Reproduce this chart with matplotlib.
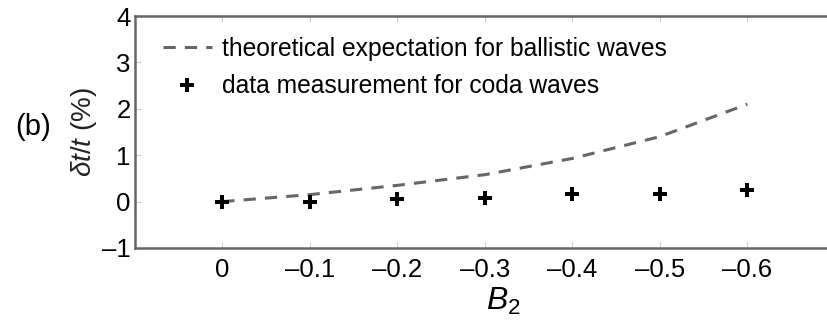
import matplotlib
matplotlib.use("Agg")
import matplotlib.pyplot as plt

plt.rcParams['font.family'] = ['Liberation Sans', 'DejaVu Sans']
plt.rcParams['mathtext.fontset'] = 'custom'
plt.rcParams['mathtext.rm'] = 'Liberation Sans'
plt.rcParams['mathtext.it'] = 'Liberation Sans:italic'
plt.rcParams['mathtext.sf'] = 'Liberation Sans'
plt.rcParams['axes.unicode_minus'] = False

# B2 values and travel-time changes (%)
b2 = [0.0, -0.1, -0.2, -0.3, -0.4, -0.5, -0.6]
theory = [0.0, 0.15, 0.35, 0.58, 0.93, 1.40, 2.10]
measured = [0.0, 0.0, 0.06, 0.07, 0.17, 0.17, 0.24]
xtick_labels = ['0', '\u20130.1', '\u20130.2', '\u20130.3', '\u20130.4', '\u20130.5', '\u20130.6']
ytick_vals = [-1, 0, 1, 2, 3, 4]
ytick_labels = ['\u20131', '0', '1', '2', '3', '4']

fig = plt.figure(figsize=(8.27, 3.27), dpi=100)
ax = fig.add_axes([0.163, 0.2416, 0.8464, 0.7094])

ax.plot(b2, theory, ls=(0, (4, 3)), color='#666666', lw=2.2,
        label='theoretical expectation for ballistic waves')
ax.plot(b2, measured, ls='none', marker='P', ms=10.5, color='black',
        markeredgewidth=0, label='data measurement for coda waves')

ax.set_xlim(0.1, -0.7)
ax.set_ylim(-1, 4)
ax.set_xticks(b2)
ax.set_xticklabels(xtick_labels)
ax.set_yticks(ytick_vals)
ax.set_yticklabels(ytick_labels)
ax.tick_params(direction='in', length=4, width=0.8, color='#cccccc',
               labelsize=18.5, top=True, right=True)
ax.tick_params(axis='x', pad=7)
ax.tick_params(axis='y', pad=3)

for s in ax.spines.values():
    s.set_color('#666666')
    s.set_linewidth(1.8)

ax.set_xlabel('$B_2$', fontsize=23)
ax.xaxis.set_label_coords(0.526, -0.165)
ax.set_ylabel(r'$\delta t/t$ (%)', fontsize=20, labelpad=2, color='#222222')
fig.text(0.018, 0.612, '(b)', fontsize=21, va='center', ha='left')

leg = ax.legend(loc='upper left', bbox_to_anchor=(0.0257, 0.9526),
                borderaxespad=0, frameon=False, fontsize=17.7,
                handlelength=2.0, handletextpad=0.4, labelspacing=0.55)

fig.savefig('out.png', dpi=100)
